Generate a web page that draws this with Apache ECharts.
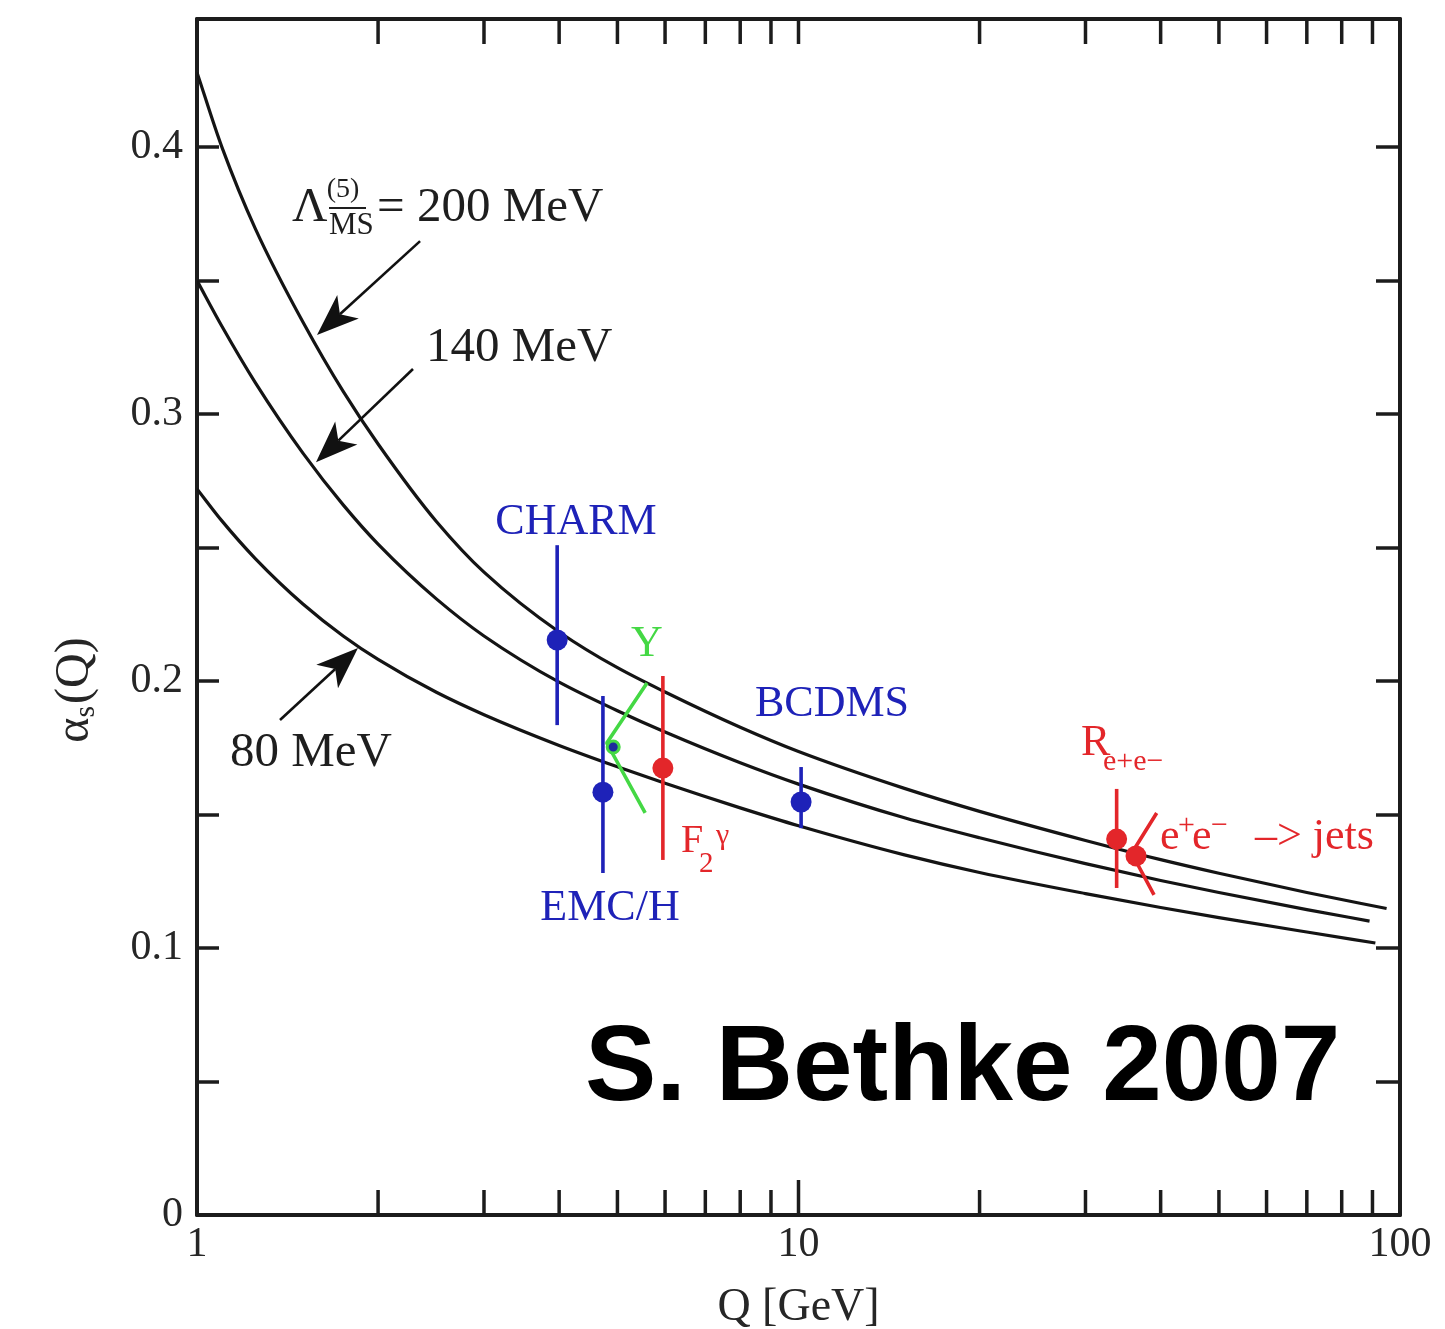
<!DOCTYPE html>
<html>
<head>
<meta charset="utf-8">
<title>Running coupling alpha_s(Q)</title>
<script src="https://cdn.jsdelivr.net/npm/echarts@6/dist/echarts.min.js"></script>
<style>
  html, body { margin: 0; padding: 0; background: #ffffff; }
  #chart { width: 1445px; height: 1329px; }
</style>
</head>
<body>
<div id="chart"></div>
<script>
// ---- QCD running coupling curves, alpha_s(Q) for three values of Lambda_MSbar(5) ----
const q200     = [1, 1.1, 1.25, 1.5, 1.75, 2, 2.5, 3, 4, 5, 6, 8, 10, 15, 20, 30, 40, 50, 70, 95];
const alpha200 = [0.428, 0.400, 0.3695, 0.3345, 0.3085, 0.2888, 0.2598, 0.2408, 0.2184, 0.2050,
                  0.1959, 0.1827, 0.1736, 0.1598, 0.1512, 0.1403, 0.1331, 0.1280, 0.1208, 0.1148];

const q140     = [1, 1.1, 1.25, 1.5, 1.75, 2, 2.5, 3, 4, 5, 6, 8, 10, 15, 20, 30, 40, 50, 70, 89];
const alpha140 = [0.350, 0.3329, 0.3118, 0.2854, 0.2660, 0.2513, 0.2308, 0.2169, 0.1996, 0.1889,
                  0.1809, 0.1694, 0.1614, 0.1488, 0.1413, 0.1316, 0.1253, 0.1208, 0.1144, 0.1101];

const q80      = [1, 1.1, 1.25, 1.5, 1.75, 2, 2.5, 3, 4, 5, 6, 8, 10, 15, 20, 30, 40, 50, 70, 91];
const alpha80  = [0.272, 0.260, 0.2459, 0.2289, 0.2169, 0.2081, 0.1958, 0.1874, 0.1759, 0.1679,
                  0.1617, 0.1525, 0.1458, 0.1349, 0.1283, 0.1204, 0.1152, 0.1114, 0.1060, 0.1019];

// ---- measurements with vertical error bars ----
const measureNames = ['CHARM', 'EMC/H', 'F2γ', 'BCDMS', 'Re+e−'];
const measureQ     = [3.97, 4.73, 5.95, 10.1, 33.8];
const measureAlpha = [0.2154, 0.1584, 0.1674, 0.1547, 0.1408];
const measureLow   = [0.1835, 0.1281, 0.1330, 0.1449, 0.1225];
const measureHigh  = [0.2509, 0.1944, 0.2019, 0.1678, 0.1596];

// ---- Upsilon decays: central value and its bent error band ----
const upsPointQ = 4.92, upsPointAlpha = 0.1753;
const upsBandQ     = [5.60, 4.80, 5.56];
const upsBandAlpha = [0.1993, 0.1768, 0.1506];

// ---- e+e- -> jets: central value and its bent error band ----
const jetsPointQ = 36.4, jetsPointAlpha = 0.1345;
const jetsBandQ     = [39.4, 35.8, 39.0];
const jetsBandAlpha = [0.1506, 0.1355, 0.1199];

// ---- axis ticks ----
const xTickQ = [2, 3, 4, 5, 6, 7, 8, 9, 10, 20, 30, 40, 50, 60, 70, 80, 90];
const xLabelValues = [1, 10, 100];
const yLabelValues = [0, 0.1, 0.2, 0.3, 0.4];

// ---- arrows from the Lambda labels to their curves: [Q from, alpha from, Q to, alpha to] ----
const arrowFromQ     = [2.349, 2.286, 1.374];
const arrowFromAlpha = [0.3648, 0.3169, 0.1854];
const arrowToQ       = [1.583, 1.577, 1.852];
const arrowToAlpha   = [0.3296, 0.2820, 0.2124];

// ---------------------------------------------------------------------------
const SERIF = '"Liberation Serif", "Times New Roman", "DejaVu Serif", serif';
const SANS = '"Liberation Sans", Arial, Helvetica, sans-serif';
const AX = '#1c1c1c';
const CURVE = '#141414';
const TEXT = '#262626';
const BLUE = '#1e22b8';
const RED = '#e3262a';
const GREEN = '#44d844';
const Y_MAX = 0.448;

const zip = (a, b) => a.map((v, i) => [v, b[i]]);
const measureColors = measureNames.map(n => (n === 'F2γ' || n.charAt(0) === 'R') ? RED : BLUE);

function txt(x, y, text, size, color, opts) {
  opts = opts || {};
  return {
    type: 'text', x: x, y: y, z: 20,
    style: {
      text: text,
      fill: color,
      font: (opts.weight || 'normal') + ' ' + size + 'px ' + (opts.family || SERIF),
      textAlign: opts.align || 'left',
      textVerticalAlign: 'middle'
    }
  };
}

// Monotone cubic (Fritsch–Carlson) path through points already mapped to pixels.
function monotonePath(pts) {
  const n = pts.length;
  const h = [], d = [];
  for (let k = 0; k < n - 1; k++) {
    h.push(pts[k + 1][0] - pts[k][0]);
    d.push((pts[k + 1][1] - pts[k][1]) / h[k]);
  }
  const m = new Array(n);
  m[0] = d[0];
  m[n - 1] = d[n - 2];
  for (let k = 1; k < n - 1; k++) {
    if (d[k - 1] * d[k] <= 0) { m[k] = 0; continue; }
    const w1 = 2 * h[k] + h[k - 1], w2 = h[k] + 2 * h[k - 1];
    m[k] = (w1 + w2) / (w1 / d[k - 1] + w2 / d[k]);
  }
  let path = 'M' + pts[0][0] + ' ' + pts[0][1];
  for (let k = 0; k < n - 1; k++) {
    const t = h[k] / 3;
    path += ' C' + (pts[k][0] + t) + ' ' + (pts[k][1] + m[k] * t) + ' ' +
            (pts[k + 1][0] - t) + ' ' + (pts[k + 1][1] - m[k + 1] * t) + ' ' +
            pts[k + 1][0] + ' ' + pts[k + 1][1];
  }
  return path;
}

function curveSeries(qs, alphas) {
  const data = zip(qs, alphas);
  return {
    type: 'custom', silent: true, clip: true, z: 2,
    data: data,
    renderItem: (params, api) => {
      if (params.dataIndex !== 0) return null;
      const pts = data.map(p => api.coord(p));
      return {
        type: 'path',
        shape: { pathData: monotonePath(pts) },
        style: { fill: null, stroke: CURVE, lineWidth: 3.2 }
      };
    }
  };
}

const chart = echarts.init(document.getElementById('chart'), null, { renderer: 'canvas' });

const option = {
  animation: false,
  backgroundColor: '#ffffff',
  grid: { left: 197, right: 45, top: 19, bottom: 114, outerBoundsMode: 'none', containLabel: false },
  xAxis: [
    {
      type: 'log', logBase: 10, min: 1, max: 100, position: 'bottom',
      axisLine: { show: true, onZero: false, lineStyle: { color: AX, width: 4 } },
      axisTick: { show: false }, minorTick: { show: false }, splitLine: { show: false },
      axisLabel: {
        fontFamily: SERIF, fontSize: 42, color: TEXT, margin: 9,
        formatter: v => {
          const r = Math.round(v);
          return xLabelValues.indexOf(r) >= 0 ? String(r) : '';
        }
      },
      name: 'Q [GeV]', nameLocation: 'middle', nameGap: 70,
      nameTextStyle: { fontFamily: SERIF, fontSize: 46, color: TEXT }
    },
    {
      type: 'log', logBase: 10, min: 1, max: 100, position: 'top',
      axisLine: { show: true, onZero: false, lineStyle: { color: AX, width: 4 } },
      axisTick: { show: false }, axisLabel: { show: false }, splitLine: { show: false }
    }
  ],
  yAxis: [
    {
      type: 'value', min: 0, max: Y_MAX, interval: 0.05, position: 'left',
      axisLine: { show: true, onZero: false, lineStyle: { color: AX, width: 4 } },
      axisTick: { show: true, inside: true, length: 22, lineStyle: { color: AX, width: 3.5 } },
      splitLine: { show: false },
      axisLabel: {
        fontFamily: SERIF, fontSize: 42, color: TEXT, margin: 14,
        formatter: v => {
          const hit = yLabelValues.find(t => Math.abs(t - v) < 1e-6);
          return hit === undefined ? '' : (hit === 0 ? '0' : hit.toFixed(1));
        }
      }
    },
    {
      type: 'value', min: 0, max: Y_MAX, interval: 0.05, position: 'right',
      axisLine: { show: true, onZero: false, lineStyle: { color: AX, width: 4 } },
      axisTick: { show: true, inside: true, length: 24, lineStyle: { color: AX, width: 3.5 } },
      axisLabel: { show: false }, splitLine: { show: false }
    }
  ],
  series: [
    // log-axis minor/decade ticks on bottom and top frame
    {
      type: 'custom', name: 'xticks', xAxisIndex: 0, yAxisIndex: 0, silent: true, clip: false, z: 5,
      data: xTickQ.map(q => [q, 0]),
      renderItem: (params, api) => {
        const q = api.value(0);
        const b = api.coord([q, 0]);
        const t = api.coord([q, Y_MAX]);
        const lenB = q === 10 ? 35 : 25;
        return {
          type: 'group', children: [
            { type: 'line', shape: { x1: b[0], y1: b[1], x2: b[0], y2: b[1] - lenB }, style: { stroke: AX, lineWidth: 3.5 } },
            { type: 'line', shape: { x1: t[0], y1: t[1], x2: t[0], y2: t[1] + 25 }, style: { stroke: AX, lineWidth: 3.5 } }
          ]
        };
      }
    },
    curveSeries(q200, alpha200),
    curveSeries(q140, alpha140),
    curveSeries(q80, alpha80),
    // arrows pointing at the curves
    {
      type: 'custom', name: 'arrows', silent: true, clip: false, z: 6,
      data: arrowFromQ.map((q, i) => [q, arrowFromAlpha[i], arrowToQ[i], arrowToAlpha[i]]),
      renderItem: (params, api) => {
        const p0 = api.coord([api.value(0), api.value(1)]);
        const p1 = api.coord([api.value(2), api.value(3)]);
        const dx = p1[0] - p0[0], dy = p1[1] - p0[1];
        const len = Math.hypot(dx, dy);
        const ux = dx / len, uy = dy / len, px = -uy, py = ux;
        const L = 42, W = 16, N = 11;
        const bx = p1[0] - ux * L, by = p1[1] - uy * L;
        const nx = p1[0] - ux * (L - N), ny = p1[1] - uy * (L - N);
        return {
          type: 'group', children: [
            { type: 'line', shape: { x1: p0[0], y1: p0[1], x2: nx, y2: ny }, style: { stroke: '#111', lineWidth: 2.6 } },
            { type: 'polygon', shape: { points: [[p1[0], p1[1]], [bx + px * W, by + py * W], [nx, ny], [bx - px * W, by - py * W]] },
              style: { fill: '#111' } }
          ]
        };
      }
    },
    // vertical error bars
    {
      type: 'custom', name: 'errorbars', silent: true, clip: false, z: 7,
      data: measureQ.map((q, i) => [q, measureLow[i], measureHigh[i]]),
      renderItem: (params, api) => {
        const q = api.value(0);
        const lo = api.coord([q, api.value(1)]);
        const hi = api.coord([q, api.value(2)]);
        return { type: 'line', shape: { x1: lo[0], y1: lo[1], x2: hi[0], y2: hi[1] },
                 style: { stroke: measureColors[params.dataIndex], lineWidth: 3.6 } };
      }
    },
    // bent error bands
    {
      type: 'line', data: zip(upsBandQ, upsBandAlpha), showSymbol: false, silent: true, z: 7,
      lineStyle: { color: GREEN, width: 3.6 }
    },
    {
      type: 'line', data: zip(jetsBandQ, jetsBandAlpha), showSymbol: false, silent: true, z: 7,
      lineStyle: { color: RED, width: 3.6 }
    },
    // central values
    {
      type: 'scatter', symbol: 'circle', symbolSize: 21, silent: true, z: 8,
      itemStyle: { opacity: 1 },
      data: measureQ.map((q, i) => ({ value: [q, measureAlpha[i]], itemStyle: { color: measureColors[i], opacity: 1 } }))
        .concat([{ value: [jetsPointQ, jetsPointAlpha], itemStyle: { color: RED, opacity: 1 } }])
    },
    {
      type: 'scatter', symbol: 'circle', symbolSize: 12, silent: true, z: 9,
      data: [[upsPointQ, upsPointAlpha]],
      itemStyle: { color: '#1d2a9c', borderColor: GREEN, borderWidth: 3, opacity: 1 }
    }
  ],
  graphic: [
    // vertical axis title
    {
      type: 'text', x: 75, y: 690, rotation: Math.PI / 2, z: 20,
      style: {
        text: '{a|α}{s|s}{a|(Q)}',
        textAlign: 'center', textVerticalAlign: 'middle',
        rich: {
          a: { fontFamily: SERIF, fontSize: 48, fill: TEXT, lineHeight: 52 },
          s: { fontFamily: SERIF, fontSize: 30, fill: TEXT, verticalAlign: 'bottom', lineHeight: 30, padding: [14, 2, 0, 0] }
        }
      }
    },
    // Lambda labels
    txt(292, 208, 'Λ', 49, '#1e1e1e'),
    txt(343, 190, '(5)', 28, '#1e1e1e', { align: 'center' }),
    { type: 'line', z: 20, shape: { x1: 329, y1: 208, x2: 366, y2: 208 }, style: { stroke: '#1e1e1e', lineWidth: 2.2 } },
    txt(329, 226, 'MS', 31, '#1e1e1e'),
    txt(377, 208, '= 200 MeV', 49, '#1e1e1e'),
    txt(426, 348, '140 MeV', 49, '#1e1e1e'),
    txt(230, 753, '80 MeV', 49, '#1e1e1e'),
    // experiment labels
    txt(576, 522, 'CHARM', 44, BLUE, { align: 'center' }),
    txt(647, 644, 'Υ', 44, GREEN, { align: 'center' }),
    txt(832, 704, 'BCDMS', 44, BLUE, { align: 'center' }),
    txt(610, 908, 'EMC/H', 44, BLUE, { align: 'center' }),
    txt(681, 841, 'F', 40, RED),
    txt(699, 864, '2', 29, RED),
    txt(716, 836, 'γ', 30, RED),
    txt(1081, 743, 'R', 44, RED),
    txt(1103, 762, 'e+e−', 30, RED),
    txt(1160, 837, 'e', 44, RED),
    txt(1178, 826, '+', 30, RED),
    txt(1192, 837, 'e', 44, RED),
    txt(1211, 826, '−', 30, RED),
    txt(1255, 837, '–> jets', 44, RED),
    // credit
    txt(585, 1070, 'S. Bethke 2007', 107, '#000000', { weight: 'bold', family: SANS })
  ]
};

chart.setOption(option);
</script>
</body>
</html>
